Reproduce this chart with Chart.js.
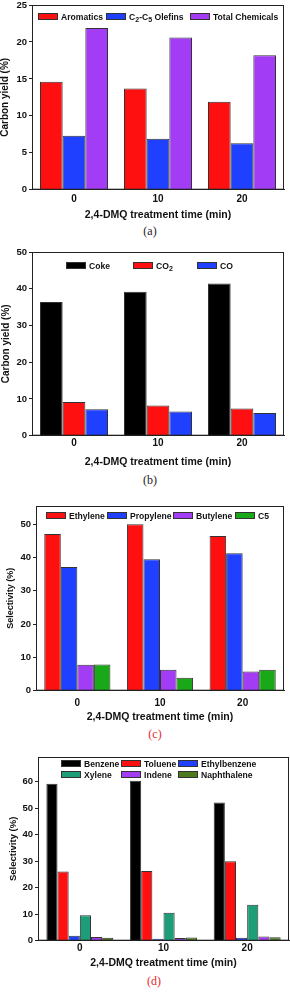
<!DOCTYPE html>
<html>
<head>
<meta charset="utf-8">
<script src="https://cdn.jsdelivr.net/npm/chart.js@4.4.1/dist/chart.umd.min.js"></script>
<style>
  body { margin: 0; width: 290px; height: 992px; background: #fff; position: relative; overflow: hidden; }
  canvas { position: absolute; left: 0; }
  .legend { position: absolute; display: grid; font: bold 8.6px "Liberation Sans", Arial, sans-serif; color: #111; }
  .item { display: flex; align-items: center; height: 11px; white-space: nowrap; }
  .item sub { font-size: 7px; vertical-align: -2px; line-height: 0; }
  .box { width: 20px; height: 7px; border: 1px solid #333; box-sizing: border-box; margin-right: 3px; flex: none; }
  .cap { position: absolute; width: 40px; margin-left: -20px; text-align: center; font: 12px "Liberation Serif", serif; line-height: 14px; }
</style>
</head>
<body>
<canvas id="chartA"></canvas>
<canvas id="chartB"></canvas>
<canvas id="chartC"></canvas>
<canvas id="chartD"></canvas>
<script>
// categories
const times = ["0", "10", "20"];

// (a) carbon yield
const aromatics = [14.6, 13.7, 11.9];
const olefins = [7.3, 6.9, 6.3];
const totalChemicals = [21.9, 20.6, 18.2];

// (b) carbon yield
const coke = [36.4, 39.2, 41.4];
const co2 = [9.2, 8.2, 7.4];
const co = [7.2, 6.6, 6.2];

// (c) olefin selectivity
const ethylene = [47.1, 50.0, 46.5];
const propylene = [37.2, 39.5, 41.3];
const butylene = [7.8, 6.3, 5.8];
const c5 = [7.9, 3.9, 6.3];

// (d) aromatic selectivity
const benzene = [59.2, 60.3, 52.1];
const toluene = [26.1, 26.3, 30.0];
const ethylbenzene = [1.9, 0.7, 1.1];
const xylene = [9.6, 10.5, 13.6];
const indene = [1.4, 1.0, 1.6];
const naphthalene = [1.1, 1.2, 1.3];

// y axis ranges
const yMaxA = 25, yStepA = 5;
const yMaxB = 50, yStepB = 10;
const yMaxC = 55.5, yStepC = 10;
const yMaxD = 69.3, yStepD = 10;

const RED = "#ff1010", BLUE = "#2040ff", PURPLE = "#a33cf5", GREEN = "#18a818";

const FONT = "'Liberation Sans', Arial, sans-serif";
const xTitle = "2,4-DMQ treatment time (min)";

const framePlugin = {
  id: "frame",
  afterDraw(chart) {
    const a = chart.chartArea, ctx = chart.ctx;
    ctx.save();
    ctx.strokeStyle = "#222";
    ctx.lineWidth = 1;
    ctx.strokeRect(a.left + 0.5, a.top + 0.5, a.right - a.left - 1, a.bottom - a.top - 1);
    ctx.restore();
  }
};

// write subscript digits of a label as <sub> elements
function fillLabel(el, text) {
  const subs = { "\u2082": "2", "\u2085": "5" };
  let buf = "";
  for (const ch of text) {
    if (subs[ch]) {
      if (buf) { el.appendChild(document.createTextNode(buf)); buf = ""; }
      const s = document.createElement("sub");
      s.textContent = subs[ch];
      el.appendChild(s);
    } else {
      buf += ch;
    }
  }
  if (buf) el.appendChild(document.createTextNode(buf));
}

function makePanel(p) {
  const canvas = document.getElementById(p.id);
  const axisH = p.titleY + 6.3 - p.plotBottom;
  const h = p.plotBottom + axisH - p.top;
  canvas.width = 290;
  canvas.height = h;
  canvas.style.top = p.top + "px";

  const chart = new Chart(canvas, {
    type: "bar",
    data: {
      labels: times,
      datasets: p.series.map((s) => ({
        label: s.label,
        data: s.data,
        backgroundColor: s.color,
        borderColor: "#333",
        borderWidth: 1,
        categoryPercentage: p.groupWidth,
        barPercentage: 1.0
      }))
    },
    options: {
      responsive: false,
      animation: false,
      layout: { padding: { top: p.plotTop - p.top, right: 290 - p.plotRight, left: 0, bottom: 0 } },
      plugins: { legend: { display: false }, tooltip: { enabled: false } },
      scales: {
        x: {
          grid: { display: false, drawTicks: false },
          border: { display: true, color: "#222", width: 1 },
          ticks: { color: "#111", font: { family: FONT, size: 10, weight: "bold" }, padding: p.tickY - p.plotBottom - 6 },
          title: { display: true, text: xTitle, color: "#111", padding: 0, font: { family: FONT, size: 10.5, weight: "bold" } },
          afterFit(s) { s.height = axisH; }
        },
        y: {
          min: 0,
          max: p.yMax,
          grid: { drawOnChartArea: false, drawTicks: true, tickLength: 3, color: "#222" },
          border: { display: true, color: "#222", width: 1 },
          ticks: { stepSize: p.yStep, color: "#111", padding: p.tickPad, font: { family: FONT, size: 9.5, weight: "bold" } },
          afterBuildTicks(s) { s.ticks = s.ticks.filter((t) => Math.abs(t.value / p.yStep - Math.round(t.value / p.yStep)) < 1e-6); },
          title: { display: true, text: p.yTitle, color: "#111", padding: { top: p.yTitleX - p.yTitleSize * 0.6, bottom: 0 }, font: { family: FONT, size: p.yTitleSize, weight: "bold" } },
          afterFit(s) { s.width = p.plotLeft; }
        }
      }
    },
    plugins: [framePlugin]
  });

  // html legend built from the chart's datasets
  const leg = document.createElement("div");
  leg.className = "legend";
  leg.style.left = p.legend.left + "px";
  leg.style.top = p.legend.top + "px";
  leg.style.gridTemplateColumns = p.legend.cols;
  chart.data.datasets.forEach((ds) => {
    const it = document.createElement("div");
    it.className = "item";
    const b = document.createElement("span");
    b.className = "box";
    b.style.background = ds.backgroundColor;
    const t = document.createElement("span");
    fillLabel(t, ds.label);
    it.appendChild(b);
    it.appendChild(t);
    leg.appendChild(it);
  });
  document.body.appendChild(leg);

  const cap = document.createElement("div");
  cap.className = "cap";
  cap.textContent = p.caption;
  cap.style.left = p.capX + "px";
  cap.style.top = (p.capY - 7) + "px";
  cap.style.color = p.capColor;
  document.body.appendChild(cap);
}

makePanel({
  id: "chartA", top: -5, plotTop: 5, plotBottom: 190, plotLeft: 32, plotRight: 284,
  tickY: 200, titleY: 215, yMax: yMaxA, yStep: yStepA, tickPad: 2,
  yTitle: "Carbon yield (%)", yTitleSize: 10, yTitleX: 5.5,
  groupWidth: 0.81,
  series: [
    { label: "Aromatics", data: aromatics, color: RED },
    { label: "C\u2082-C\u2085 Olefins", data: olefins, color: BLUE },
    { label: "Total Chemicals", data: totalChemicals, color: PURPLE }
  ],
  legend: { left: 38, top: 11, cols: "68px 84px auto" },
  caption: "(a)", capX: 150, capY: 231, capColor: "#222"
});

makePanel({
  id: "chartB", top: 242, plotTop: 252, plotBottom: 436, plotLeft: 32, plotRight: 284,
  tickY: 444, titleY: 462, yMax: yMaxB, yStep: yStepB, tickPad: 2,
  yTitle: "Carbon yield (%)", yTitleSize: 10, yTitleX: 6.5,
  groupWidth: 0.81,
  series: [
    { label: "Coke", data: coke, color: "#000" },
    { label: "CO\u2082", data: co2, color: RED },
    { label: "CO", data: co, color: BLUE }
  ],
  legend: { left: 66, top: 260, cols: "67px 64px auto" },
  caption: "(b)", capX: 150, capY: 480, capColor: "#222"
});

makePanel({
  id: "chartC", top: 496, plotTop: 506, plotBottom: 691, plotLeft: 36, plotRight: 284,
  tickY: 704, titleY: 717, yMax: yMaxC, yStep: yStepC, tickPad: 2,
  yTitle: "Selectivity (%)", yTitleSize: 9, yTitleX: 11,
  groupWidth: 0.8,
  series: [
    { label: "Ethylene", data: ethylene, color: RED },
    { label: "Propylene", data: propylene, color: BLUE },
    { label: "Butylene", data: butylene, color: PURPLE },
    { label: "C5", data: c5, color: GREEN }
  ],
  legend: { left: 46, top: 510, cols: "61px 66px 62px auto" },
  caption: "(c)", capX: 155, capY: 734, capColor: "#e8282c"
});

makePanel({
  id: "chartD", top: 747, plotTop: 757, plotBottom: 941, plotLeft: 38, plotRight: 289,
  tickY: 949, titleY: 963, yMax: yMaxD, yStep: yStepD, tickPad: 2,
  yTitle: "Selectivity (%)", yTitleSize: 9.5, yTitleX: 13,
  groupWidth: 0.8,
  series: [
    { label: "Benzene", data: benzene, color: "#000" },
    { label: "Toluene", data: toluene, color: RED },
    { label: "Ethylbenzene", data: ethylbenzene, color: BLUE },
    { label: "Xylene", data: xylene, color: "#1d9e78" },
    { label: "Indene", data: indene, color: PURPLE },
    { label: "Naphthalene", data: naphthalene, color: "#4d7a1c" }
  ],
  legend: { left: 61, top: 758, cols: "60px 57px auto" },
  caption: "(d)", capX: 154, capY: 981, capColor: "#e8282c"
});
</script>
</body>
</html>
